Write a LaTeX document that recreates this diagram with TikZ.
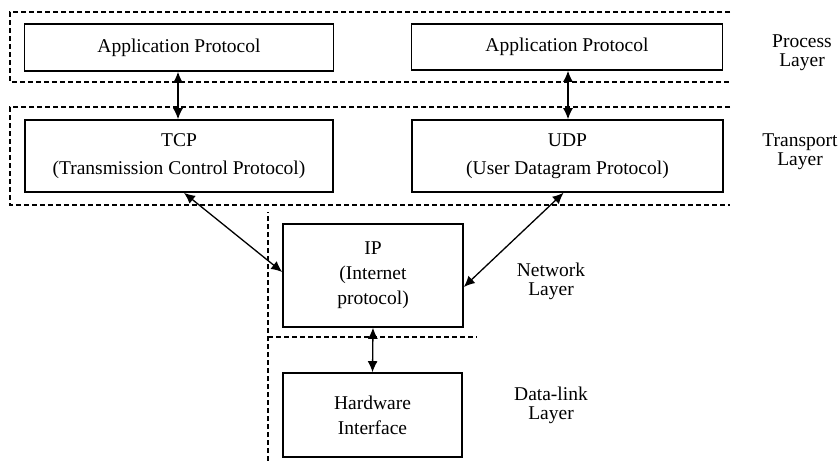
\documentclass[tikz,border=0pt]{standalone}
\usepackage{fontspec}
\setmainfont{Liberation Serif}
\usetikzlibrary{arrows.meta}
\begin{document}
\begin{tikzpicture}[x=1pt,y=-1pt,
  proto/.style={draw,line width=1.6pt,minimum height=0pt,inner sep=0pt,font=\fontsize{19.5}{25}\selectfont,align=center},
  layertxt/.style={font=\fontsize{19.5}{19}\selectfont,align=center},
  region/.style={line width=1.1pt,dash pattern=on 5pt off 3pt},
  link/.style={line width=1.3pt,{Latex[length=11pt,width=10pt]}-{Latex[length=11pt,width=10pt]}}]
\useasboundingbox (0,0) rectangle (839,461);
% regions
\draw[region] (730,12) -- (10,12) -- (10,82) -- (730,82);
\draw[region] (730,107) -- (10,107) -- (10,205) -- (730,205);
\draw[region] (268,461) -- (268,212);
\draw[region] (268,337) -- (477,337);
% boxes
\node[proto,minimum width=309pt,minimum height=47pt] (app1) at (179,47.5) {Application Protocol};
\node[proto,minimum width=311pt,minimum height=46pt] (app2) at (567,47) {Application Protocol};
\node[proto,minimum width=308pt,minimum height=72pt] (tcp) at (179,156) {TCP\\[3pt](Transmission Control Protocol)};
\node[proto,minimum width=311pt,minimum height=72pt] (udp) at (567.5,156) {UDP\\[3pt](User Datagram Protocol)};
\node[proto,minimum width=180pt,minimum height=103pt] (ip) at (373,275.5) {IP\\(Internet\\protocol)};
\node[proto,minimum width=179pt,minimum height=84pt] (hw) at (372.5,415) {Hardware\\Interface};
% layer labels
\node[layertxt] (pl) at (802,53) {Process\\Layer};
\node[layertxt] (tl) at (800,152) {Transport\\Layer};
\node[layertxt] (nl) at (551,281) {Network\\Layer};
\node[layertxt] (dl) at (551,405) {Data-link\\Layer};
% connectors
\draw[link] (app1.south) ++(-1,0) coordinate (a1) -- (a1 |- tcp.north);
\draw[link] (app2.south) ++(1,0) coordinate (a2) -- (a2 |- udp.north);
\draw[link] (tcp.south) ++(5,0) coordinate (t1) -- (ip.west |- 0,272);
\draw[link] (udp.south) ++(-4,0) coordinate (u1) -- (ip.east |- 0,287);
\draw[link] (ip.south) -- (hw.north);
\end{tikzpicture}
\end{document}
